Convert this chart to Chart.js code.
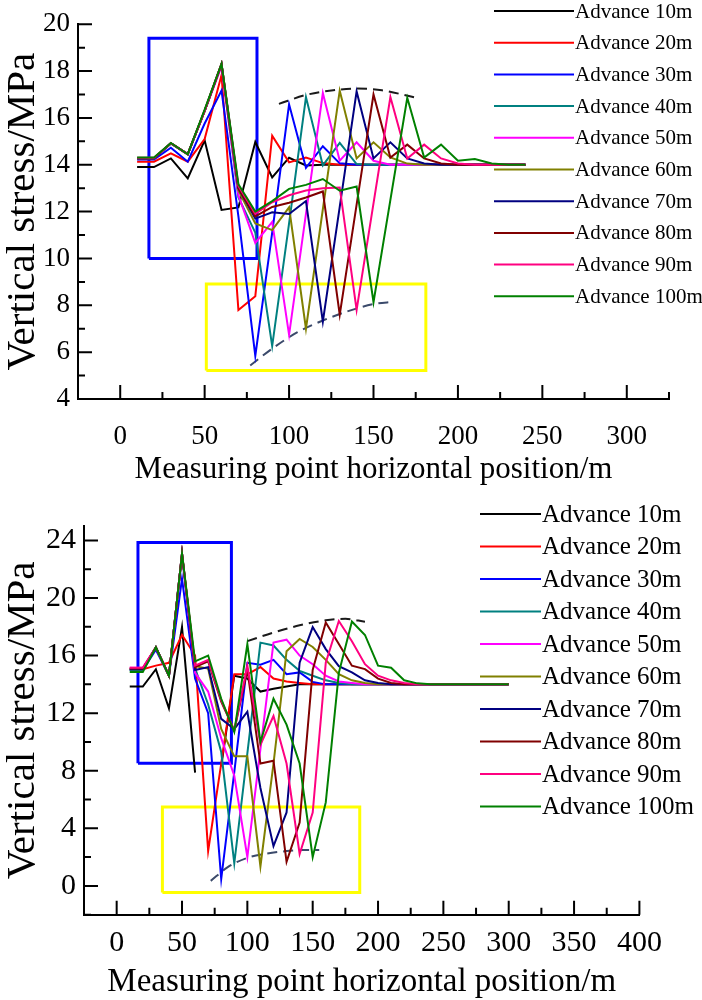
<!DOCTYPE html>
<html>
<head>
<meta charset="utf-8">
<script src="https://cdn.jsdelivr.net/npm/chart.js@4.4.0/dist/chart.umd.min.js"></script>
<style>
  html, body { margin: 0; padding: 0; background: #fff; }
  #wrap { position: relative; width: 702px; height: 1000px; }
  canvas { position: absolute; left: 0; }
</style>
</head>
<body>
<div id="wrap">
  <canvas id="topChart" width="702" height="500" style="top:0"></canvas>
  <canvas id="bottomChart" width="702" height="500" style="top:500px"></canvas>
</div>
<script>
// ── Series names / colours ───────────────────────────────────────────────────
const seriesNames = ['Advance 10m','Advance 20m','Advance 30m','Advance 40m','Advance 50m',
                     'Advance 60m','Advance 70m','Advance 80m','Advance 90m','Advance 100m'];
const seriesColors = ['#000000','#ff0000','#0000ff','#008080','#ff00ff',
                      '#808000','#000080','#800000','#ff0080','#008000'];

// ── Upper panel data (MPa) ───────────────────────────────────────────────────
const topX = [10,20,30,40,50,60,70,80,90,100,110,120,130,140,150,160,170,180,190,200,210,220,230,240];
const topAdv10  = [13.9,13.9,14.27,13.42,15.04,12.07,12.18,14.97,13.46,14.3,13.97,14.0,14.0,14.0,14.0,14.0,14.0,14.0,14.0,14.0,14.0,14.0,14.0,14.0];
const topAdv20  = [14.13,14.13,14.49,14.13,15.1,17.83,7.8,8.39,15.24,14.1,14.31,14.07,14.0,14.0,14.0,14.0,14.0,14.0,14.0,14.0,14.0,14.0,14.0,14.0];
const topAdv30  = [14.22,14.22,14.73,14.13,15.76,17.17,11.8,5.84,11.1,16.58,13.87,14.79,14.06,14.0,14.0,14.0,14.0,14.0,14.0,14.0,14.0,14.0,14.0,14.0];
const topAdv40  = [14.28,14.28,14.9,14.45,16.3,18.25,12.6,11.1,6.26,11.5,16.89,13.97,14.93,14.03,14.0,14.0,14.0,14.0,14.0,14.0,14.0,14.0,14.0,14.0];
const topAdv50  = [14.28,14.28,14.92,14.45,16.3,18.2,12.7,10.66,11.56,6.74,11.9,17.06,14.17,14.96,14.17,14.0,14.0,14.0,14.0,14.0,14.0,14.0,14.0,14.0];
const topAdv60  = [14.28,14.28,14.92,14.45,16.3,18.3,12.9,11.49,11.21,12.18,7.0,12.1,17.16,14.27,14.96,14.31,14.05,14.0,14.0,14.0,14.0,14.0,14.0,14.0];
const topAdv70  = [14.28,14.28,14.92,14.45,16.3,18.3,13.0,11.7,11.97,11.9,12.45,7.3,12.2,17.13,14.27,14.96,14.27,14.05,14.0,14.0,14.0,14.0,14.0,14.0];
const topAdv80  = [14.28,14.28,14.92,14.45,16.3,18.3,13.0,11.8,12.2,12.38,12.6,12.86,7.6,12.3,17.0,14.31,14.86,14.27,14.05,14.0,14.0,14.0,14.0,14.0];
const topAdv90  = [14.3,14.3,14.92,14.45,16.3,18.3,13.1,11.9,12.4,12.7,12.9,13.0,13.03,7.8,12.35,16.89,14.27,14.86,14.27,14.05,14.0,14.0,14.0,14.0];
const topAdv100 = [14.31,14.31,14.93,14.45,16.35,18.31,13.17,12.0,12.45,12.97,13.14,13.39,12.89,13.07,8.13,12.5,16.86,14.31,14.86,14.17,14.24,14.05,14.0,14.0];

const topXTicks = [0,50,100,150,200,250,300];
const topYTicks = [4,6,8,10,12,14,16,18,20];

// boxes and envelope curves of the upper panel
const topBlueBox   = { x: [17, 81],  y: [10, 19.4] };
const topYellowBox = { x: [51, 181], y: [5.22, 8.91] };
const topPeakEnvX  = [94, 110, 125, 140, 155, 174];
const topPeakEnvY  = [16.6, 16.98, 17.17, 17.25, 17.18, 16.88];
const topDipEnvX   = [77, 90, 105, 120, 135, 150, 162];
const topDipEnvY   = [5.43, 6.15, 6.85, 7.35, 7.75, 8.05, 8.15];

// ── Lower panel data (MPa) ───────────────────────────────────────────────────
const botX = [10,20,30,40,50,60,70,80,90,100,110,120,130,140,150,160,170,180,190,200,210,220,230,240,250,260,270,280,290,300];
const botAdv10  = [13.85,13.85,15.05,12.33,17.98,7.87,null,8.3,14.6,14.4,13.5,13.7,13.85,14.0,14.0,14.0,14.0,14.0,14.0,14.0,14.0,14.0,14.0,14.0,14.0,14.0,14.0,14.0,14.0,14.0];
const botAdv20  = [15.05,15.05,15.3,15.5,17.44,16.0,2.43,8.5,14.7,14.7,15.2,14.4,14.2,14.1,14.0,14.0,14.0,14.0,14.0,14.0,14.0,14.0,14.0,14.0,14.0,14.0,14.0,14.0,14.0,14.0];
const botAdv30  = [15.0,15.0,16.4,14.6,21.35,14.4,12.0,0.48,7.9,15.5,15.37,15.7,14.7,14.83,14.17,14.0,14.0,14.0,14.0,14.0,14.0,14.0,14.0,14.0,14.0,14.0,14.0,14.0,14.0,14.0];
const botAdv40  = [15.0,15.0,16.57,14.6,23.0,15.1,12.6,9.3,1.57,9.2,16.9,16.7,15.7,14.94,14.6,14.28,14.1,14.0,14.0,14.0,14.0,14.0,14.0,14.0,14.0,14.0,14.0,14.0,14.0,14.0];
const botAdv50  = [15.15,15.15,16.57,14.6,23.05,14.8,13.5,10.26,7.65,2.0,9.5,16.9,17.1,16.0,15.4,14.6,14.2,14.1,14.0,14.0,14.0,14.0,14.0,14.0,14.0,14.0,14.0,14.0,14.0,14.0];
const botAdv60  = [15.05,15.05,16.57,14.6,23.09,15.26,15.1,10.9,9.0,9.0,1.35,8.5,16.3,17.15,16.6,15.7,14.7,14.28,14.1,14.0,14.0,14.0,14.0,14.0,14.0,14.0,14.0,14.0,14.0,14.0];
const botAdv70  = [15.05,15.05,16.57,14.6,23.09,15.0,15.2,11.6,10.9,12.1,6.8,2.76,5.1,15.5,17.98,16.45,15.26,14.83,14.28,14.1,14.0,14.0,14.0,14.0,14.0,14.0,14.0,14.0,14.0,14.0];
const botAdv80  = [15.1,15.1,16.57,14.6,23.09,15.2,15.6,12.8,10.8,15.0,8.5,8.7,1.67,4.4,15.0,18.3,16.8,15.3,15.06,14.4,14.1,14.0,14.0,14.0,14.0,14.0,14.0,14.0,14.0,14.0];
const botAdv90  = [15.15,15.15,16.57,14.6,23.09,15.3,15.7,12.9,10.8,15.3,9.8,11.8,8.5,2.22,5.1,15.5,18.4,17.0,15.4,14.6,14.28,14.1,14.0,14.0,14.0,14.0,14.0,14.0,14.0,14.0];
const botAdv100 = [14.85,14.85,16.57,14.6,23.09,15.6,16.0,13.0,10.7,16.8,10.0,13.0,11.2,8.5,2.0,5.8,14.8,18.36,17.43,15.3,15.15,14.28,14.07,14.0,14.0,14.0,14.0,14.0,14.0,14.0];

const botXTicks = [0,50,100,150,200,250,300,350,400];
const botYTicks = [0,4,8,12,16,20,24];

const botBlueBox   = { x: [16.3, 87.8], y: [8.52, 23.85] };
const botYellowBox = { x: [35, 186],    y: [-0.45, 5.48] };
const botPeakEnvX  = [100, 120, 140, 160, 175, 190];
const botPeakEnvY  = [17.0, 17.6, 18.1, 18.45, 18.55, 18.35];
const botDipEnvX   = [72, 85, 100, 115, 130, 145, 155];
const botDipEnvY   = [0.35, 1.3, 1.95, 2.25, 2.42, 2.5, 2.5];

// ── Helpers ──────────────────────────────────────────────────────────────────
const SERIF = "'Liberation Serif', 'Times New Roman', serif";

function seriesSet(label, xs, ys, color, order) {
  return {
    label, data: xs.map((x, i) => ({ x, y: ys[i] })),
    borderColor: color, backgroundColor: color,
    borderWidth: 2, pointRadius: 0, showLine: true, spanGaps: false, order
  };
}
function boxSet(box, color) {
  const [x0, x1] = box.x, [y0, y1] = box.y;
  return {
    label: '', data: [{x:x0,y:y0},{x:x0,y:y1},{x:x1,y:y1},{x:x1,y:y0},{x:x0,y:y0}],
    borderColor: color, borderWidth: 3, pointRadius: 0, showLine: true, order: 30, extra: true
  };
}
function dashSet(xs, ys, color) {
  return {
    label: '', data: xs.map((x, i) => ({ x, y: ys[i] })),
    borderColor: color, borderWidth: 2, borderDash: [10, 6], pointRadius: 0,
    showLine: true, cubicInterpolationMode: 'monotone', tension: 0.4, order: 25, extra: true
  };
}
function minorsOf(ticks, lo, hi) {
  const step = ticks[1] - ticks[0];
  const out = [];
  for (let v = ticks[0] - step / 2; v <= ticks[ticks.length - 1] + step / 2 + 1e-9; v += step) {
    if (v >= lo - 1e-9 && v <= hi + 1e-9) out.push(v);
  }
  return out;
}

// inward tick marks + in-plot legend
const panelDecor = {
  id: 'panelDecor',
  afterDraw(chart, args, o) {
    const { ctx, chartArea: a, scales: { x, y } } = chart;
    ctx.save();
    ctx.strokeStyle = '#000';
    ctx.lineWidth = 2;
    ctx.beginPath();
    o.xMajor.forEach(v => { const p = x.getPixelForValue(v); ctx.moveTo(p, a.bottom); ctx.lineTo(p, a.bottom - o.major); });
    o.xMinor.forEach(v => { const p = x.getPixelForValue(v); ctx.moveTo(p, a.bottom); ctx.lineTo(p, a.bottom - o.minor); });
    o.yMajor.forEach(v => { const p = y.getPixelForValue(v); ctx.moveTo(a.left, p); ctx.lineTo(a.left + o.major, p); });
    o.yMinor.forEach(v => { const p = y.getPixelForValue(v); ctx.moveTo(a.left, p); ctx.lineTo(a.left + o.minor, p); });
    ctx.stroke();

    // legend
    ctx.font = o.legendFont + 'px ' + SERIF;
    ctx.textBaseline = 'middle';
    ctx.textAlign = 'left';
    chart.data.datasets.filter(d => !d.extra).forEach((d, i) => {
      const yy = o.legendTop + i * o.legendStep;
      ctx.strokeStyle = d.borderColor;
      ctx.lineWidth = 2;
      ctx.beginPath();
      ctx.moveTo(o.legendX0, yy);
      ctx.lineTo(o.legendX1, yy);
      ctx.stroke();
      ctx.fillStyle = '#000';
      ctx.fillText(d.label, o.legendX1 + 1, yy + 1);
    });
    ctx.restore();
  }
};

function buildPanel(canvasId, cfg) {
  const series = cfg.series.map((ys, i) => seriesSet(seriesNames[i], cfg.x, ys, seriesColors[i], 10 - i));
  const extras = [
    boxSet(cfg.blueBox, '#0000ff'),
    boxSet(cfg.yellowBox, '#ffff00'),
    dashSet(cfg.peakX, cfg.peakY, '#1a1a1a'),
    dashSet(cfg.dipX, cfg.dipY, '#3b4a6b')
  ];
  return new Chart(document.getElementById(canvasId).getContext('2d'), {
    type: 'scatter',
    data: { datasets: series.concat(extras) },
    plugins: [panelDecor],
    options: {
      responsive: false,
      animation: false,
      events: [],
      layout: { padding: cfg.padding },
      scales: {
        x: {
          type: 'linear', min: cfg.xMin, max: cfg.xMax,
          afterBuildTicks: s => { s.ticks = cfg.xTicks.map(v => ({ value: v })); },
          afterFit: s => { s.height = cfg.xAxisHeight; },
          grid: { display: false, drawTicks: false },
          border: { display: true, color: '#000', width: 2 },
          ticks: { autoSkip: false, maxRotation: 0, padding: cfg.xTickPad, color: '#000',
                   font: { family: SERIF, size: cfg.tickFont } },
          title: { display: true, text: 'Measuring point horizontal position/m', color: '#000',
                   font: { family: SERIF, size: cfg.titleFont, lineHeight: 1.1 },
                   padding: { top: 0, bottom: cfg.xTitlePad } }
        },
        y: {
          type: 'linear', min: cfg.yMin, max: cfg.yMax,
          afterBuildTicks: s => { s.ticks = cfg.yTicks.map(v => ({ value: v })); },
          afterFit: s => { s.width = cfg.yAxisWidth; },
          grid: { display: false, drawTicks: false },
          border: { display: true, color: '#000', width: 2 },
          ticks: { padding: cfg.yTickPad, color: '#000', font: { family: SERIF, size: cfg.tickFont } },
          title: { display: true, text: 'Vertical stress/MPa', color: '#000',
                   font: { family: SERIF, size: cfg.yTitleFont, lineHeight: 1.0 },
                   padding: { top: cfg.yTitlePad, bottom: 0 } }
        }
      },
      plugins: {
        legend: { display: false },
        tooltip: { enabled: false },
        panelDecor: {
          xMajor: cfg.xTicks, xMinor: minorsOf(cfg.xTicks, cfg.xMin, cfg.xMax),
          yMajor: cfg.yTicks, yMinor: minorsOf(cfg.yTicks, cfg.yMin, cfg.yMax),
          major: 14, minor: 7,
          legendX0: cfg.legend.x0, legendX1: cfg.legend.x1, legendTop: cfg.legend.top,
          legendStep: cfg.legend.step, legendFont: cfg.legend.font
        }
      }
    }
  });
}

// ── Upper panel ──────────────────────────────────────────────────────────────
const topChart = buildPanel('topChart', {
  x: topX,
  series: [topAdv10, topAdv20, topAdv30, topAdv40, topAdv50, topAdv60, topAdv70, topAdv80, topAdv90, topAdv100],
  xTicks: topXTicks, yTicks: topYTicks,
  xMin: -25, xMax: 325, yMin: 4, yMax: 20,
  blueBox: topBlueBox, yellowBox: topYellowBox,
  peakX: topPeakEnvX, peakY: topPeakEnvY, dipX: topDipEnvX, dipY: topDipEnvY,
  padding: { left: 0, right: 33, top: 11, bottom: 0 },
  xAxisHeight: 101, yAxisWidth: 78,
  tickFont: 27, titleFont: 31, yTitleFont: 41,
  xTickPad: 22, yTickPad: 8, xTitlePad: 13, yTitlePad: 3,
  legend: { x0: 494, x1: 574, top: 11, step: 31.7, font: 21 }
});

// ── Lower panel ──────────────────────────────────────────────────────────────
const bottomChart = buildPanel('bottomChart', {
  x: botX,
  series: [botAdv10, botAdv20, botAdv30, botAdv40, botAdv50, botAdv60, botAdv70, botAdv80, botAdv90, botAdv100],
  xTicks: botXTicks, yTicks: botYTicks,
  xMin: -25, xMax: 400, yMin: -2, yMax: 25,
  blueBox: botBlueBox, yellowBox: botYellowBox,
  peakX: botPeakEnvX, peakY: botPeakEnvY, dipX: botDipEnvX, dipY: botDipEnvY,
  padding: { left: 0, right: 62.6, top: 0, bottom: 0 },
  xAxisHeight: 85.3, yAxisWidth: 84,
  tickFont: 30, titleFont: 33, yTitleFont: 41,
  xTickPad: 10, yTickPad: 8, xTitlePad: 0, yTitlePad: 3,
  legend: { x0: 480, x1: 541, top: 14, step: 32.5, font: 25 }
});
</script>
</body>
</html>
